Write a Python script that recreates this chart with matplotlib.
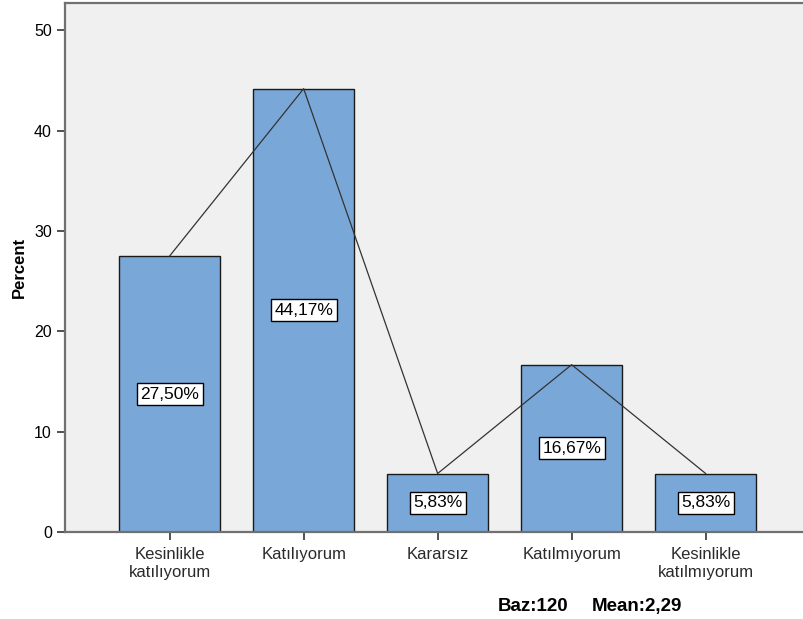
import matplotlib.pyplot as plt

# Survey answer distribution (percent)
categories = ["Kesinlikle\nkatılıyorum", "Katılıyorum", "Kararsız",
              "Katılmıyorum", "Kesinlikle\nkatılmıyorum"]
percents = [27.50, 44.17, 5.83, 16.67, 5.83]
labels = ["27,50%", "44,17%", "5,83%", "16,67%", "5,83%"]

plt.rcParams['font.family'] = ['Liberation Sans', 'DejaVu Sans']

fig = plt.figure(figsize=(8.04, 6.19), dpi=100)
ax = fig.add_axes([0.081, 0.1405, 0.93, 0.8546])
ax.set_facecolor('#f0f0f0')

x = list(range(len(categories)))
ax.bar(x, percents, width=0.755, color='#79a8d8', edgecolor='#1a1a1a',
       linewidth=1.0, zorder=2)
ax.plot(x, percents, color='#333333', linewidth=0.9, zorder=3)

for xi, p, lab in zip(x, percents, labels):
    ax.text(xi, p / 2, lab, ha='center', va='center', fontsize=12.5, zorder=4,
            bbox=dict(boxstyle='square,pad=0.2', facecolor='white',
                      edgecolor='black', linewidth=1.0))

ax.set_xlim(-0.78, 4.80)
ax.set_ylim(0, 52.7)
ax.set_yticks([0, 10, 20, 30, 40, 50])
ax.set_xticks(x)
ax.set_xticklabels(categories, fontsize=12, color='#2a2a2a', linespacing=1.2)
ax.tick_params(axis='y', labelsize=11.5, length=6, width=1.2, color='#333333')
ax.tick_params(axis='x', length=6, width=1.2, color='#333333', pad=5)
ax.set_ylabel("Percent", fontsize=12, fontweight='bold', labelpad=5)

for side in ['left', 'top', 'bottom']:
    ax.spines[side].set_color('#707070')
    ax.spines[side].set_linewidth(1.6)
ax.spines['right'].set_visible(False)

fig.text(0.6185, 0.007, "Baz:120", ha='left', va='bottom', fontsize=13.5,
         fontweight='bold')
fig.text(0.7365, 0.007, "Mean:2,29", ha='left', va='bottom', fontsize=13.5,
         fontweight='bold')

fig.savefig('out.png', dpi=100)
